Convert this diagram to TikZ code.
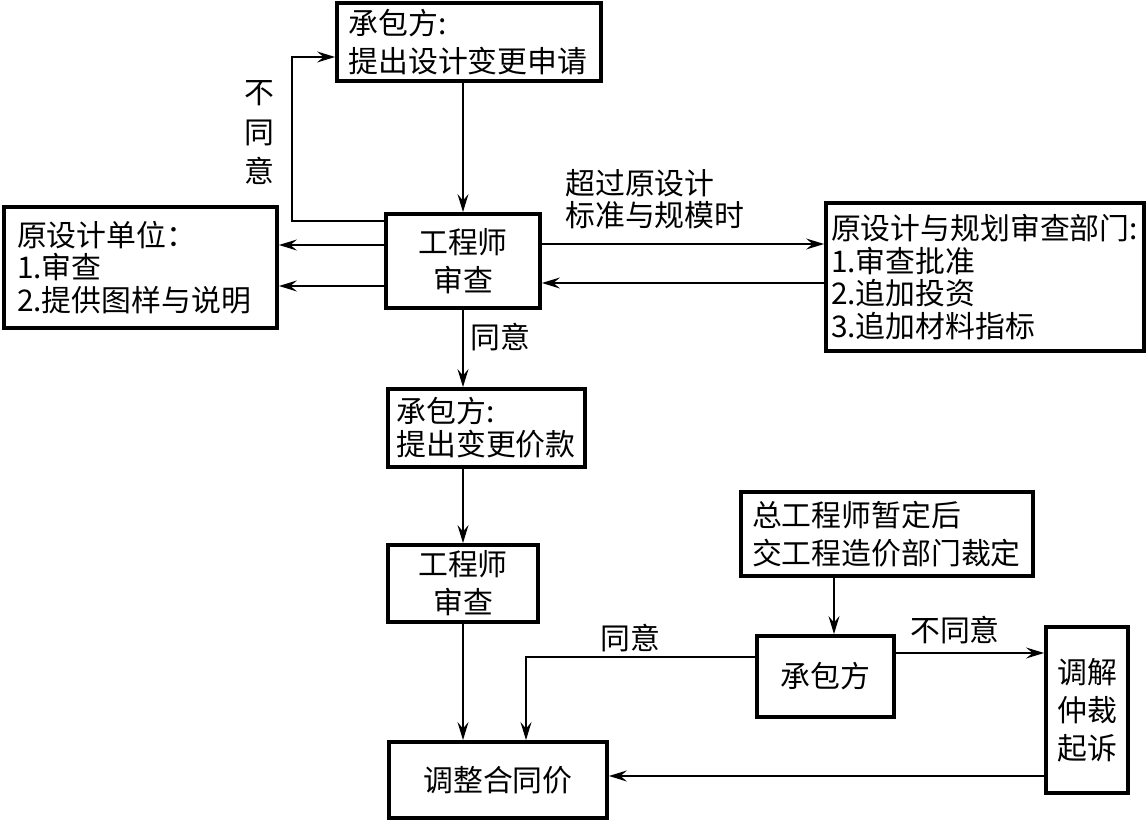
\documentclass[tikz,border=0pt]{standalone}
\usepackage{fontspec}
\newfontfamily\cjk{Noto Sans CJK SC}
\usetikzlibrary{arrows.meta}

\begin{document}
\begin{tikzpicture}[
  x=0.02cm, y=-0.02cm,
  font=\cjk\fontsize{17pt}{18.6pt}\selectfont,
  >={Stealth[length=3.6mm,width=2.2mm,inset=1.3mm]},
  box/.style={draw, line width=2.2pt, inner sep=0pt, align=center},
  lbox/.style={box, align=left},
  wide/.style={font=\cjk\fontsize{17pt}{21.5pt}\selectfont},
  flow/.style={->, line width=0.8pt},
  tag/.style={inner sep=0pt, align=left}
]

\useasboundingbox (0,0) rectangle (1147,820);

\node[lbox, wide, minimum width=5.28cm, minimum height=1.56cm, text width=4.82cm] (apply) at (469,42)
  {承包方:\\提出设计变更申请};
\node[box, wide, minimum width=3.08cm, minimum height=1.88cm] (eng1) at (463,261) {工程师\\审查};
\node[lbox, minimum width=5.46cm, minimum height=2.42cm, text width=4.94cm] (orig) at (140.5,267.5)
  {原设计单位：\\1.审查\\2.提供图样与说明};
\node[lbox, minimum width=6.36cm, minimum height=2.96cm, text width=6.16cm] (plan) at (985,277)
  {原设计与规划审查部门:\\1.审查批准\\2.追加投资\\3.追加材料指标};
\node[lbox, minimum width=3.94cm, minimum height=1.56cm, text width=3.6cm] (price) at (486.5,428)
  {承包方:\\提出变更价款};
\node[box, wide, minimum width=3.0cm, minimum height=1.54cm] (eng2) at (463,583.5) {工程师\\审查};
\node[box, minimum width=4.36cm, minimum height=1.52cm] (adjust) at (498,780) {调整合同价};
\node[lbox, wide, minimum width=5.84cm, minimum height=1.68cm, text width=5.4cm] (ruling) at (887,534)
  {总工程师暂定后\\交工程造价部门裁定};
\node[box, minimum width=2.74cm, minimum height=1.62cm] (contractor) at (825.5,676.5) {承包方};
\node[box, wide, minimum width=1.64cm, minimum height=3.32cm] (dispute) at (1087,710) {调解\\仲裁\\起诉};

\node[tag, align=center, font=\cjk\fontsize{17pt}{22.5pt}\selectfont] (refuse) at (259,133) {不\\同\\意};
\node[tag, anchor=west] (exceed) at (565,199) {超过原设计\\标准与规模时};
\node[tag] (agree1) at (500,337) {同意};
\node[tag] (agree2) at (630,638) {同意};
\node[tag] (disagree) at (955,630) {不同意};

\coordinate (loop) at (292,57);
\coordinate (agree) at (526,0);

\draw[flow] ([yshift=-0.18cm]eng1.north west) -| (loop) -- (loop -| apply.west);
\draw[flow] (eng1.north |- apply.south) -- (eng1.north);
\draw[flow] ([yshift=0.32cm]eng1.west) -- ([yshift=0.32cm]eng1.west -| orig.east);
\draw[flow] ([yshift=-0.5cm]eng1.west) -- ([yshift=-0.5cm]eng1.west -| orig.east);
\draw[flow] ([yshift=0.34cm]eng1.east) -- ([yshift=0.34cm]eng1.east -| plan.west);
\draw[flow] ([yshift=-0.44cm]eng1.east -| plan.west) -- ([yshift=-0.44cm]eng1.east);
\draw[flow] (eng1.south) -- (eng1.south |- price.north);
\draw[flow] (eng2.north |- price.south) -- (eng2.north);
\draw[flow] (eng2.south) -- (eng2.south |- adjust.north);
\draw[flow] ([xshift=0.17cm]contractor.north |- ruling.south) -- ([xshift=0.17cm]contractor.north);
\draw[flow] ([yshift=0.39cm]contractor.west) -| (agree |- adjust.north);
\draw[flow] ([yshift=0.47cm]contractor.east) -- ([yshift=0.47cm]contractor.east -| dispute.west);
\draw[flow] ([yshift=-1.32cm]dispute.west) -- ([yshift=-1.32cm]dispute.west -| adjust.east);
\end{tikzpicture}
\end{document}
